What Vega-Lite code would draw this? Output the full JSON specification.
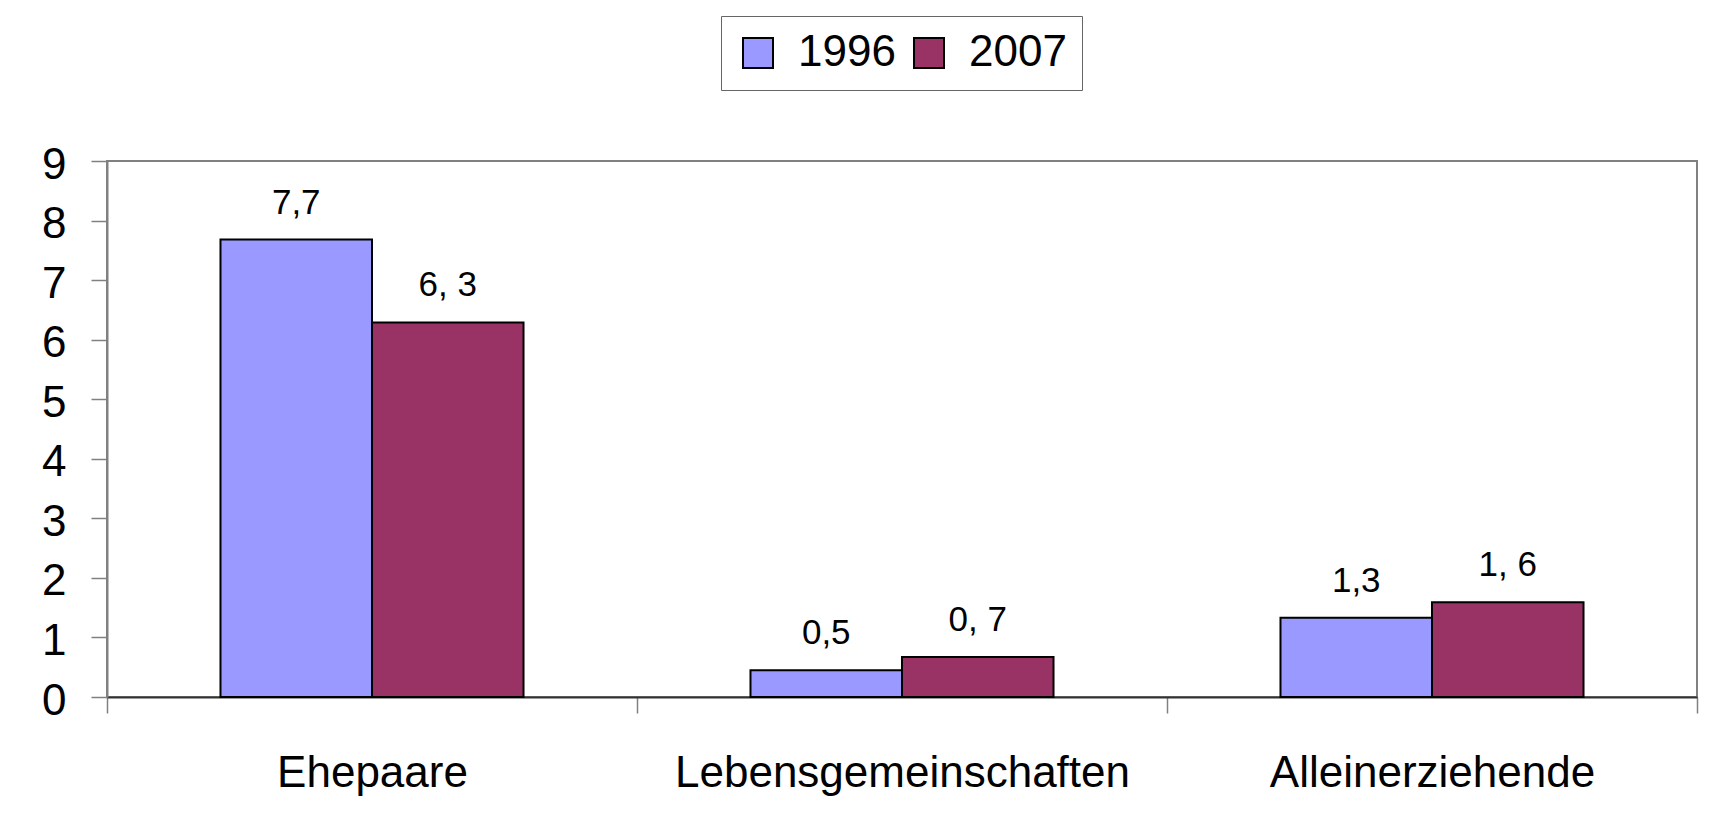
{
  "$schema": "https://vega.github.io/schema/vega-lite/v6.json",
  "autosize": "none",
  "width": 1590,
  "height": 536,
  "padding": {"left": 107, "top": 161, "right": 22, "bottom": 134},
  "background": "white",
  "config": {
    "font": "Liberation Sans",
    "view": {"stroke": "#808080", "strokeWidth": 2},
    "axis": {"grid": false, "labelColor": "black", "labelFont": "Liberation Sans"}
  },
  "data": {
    "values": [
      {"Kategorie": "Ehepaare", "Jahr": "1996", "Wert": 7.68, "Label": "7,7"},
      {"Kategorie": "Ehepaare", "Jahr": "2007", "Wert": 6.29, "Label": "6, 3"},
      {"Kategorie": "Lebensgemeinschaften", "Jahr": "1996", "Wert": 0.45, "Label": "0,5"},
      {"Kategorie": "Lebensgemeinschaften", "Jahr": "2007", "Wert": 0.67, "Label": "0, 7"},
      {"Kategorie": "Alleinerziehende", "Jahr": "1996", "Wert": 1.33, "Label": "1,3"},
      {"Kategorie": "Alleinerziehende", "Jahr": "2007", "Wert": 1.59, "Label": "1, 6"}
    ]
  },
  "encoding": {
    "x": {
      "field": "Kategorie",
      "type": "nominal",
      "sort": null,
      "scale": {"paddingInner": 0, "paddingOuter": 0},
      "axis": {
        "title": null,
        "labelAngle": 0,
        "labelFontSize": 44,
        "labelLimit": 0,
        "labelBaseline": "alphabetic",
        "labelPadding": 73,
        "tickBand": "extent",
        "tickSize": 16,
        "tickColor": "#808080",
        "tickWidth": 1.5,
        "domainColor": "#333333",
        "domainWidth": 2
      }
    },
    "xOffset": {"field": "Jahr", "type": "nominal", "scale": {"paddingInner": 0, "paddingOuter": 0.749}},
    "y": {
      "field": "Wert",
      "type": "quantitative",
      "scale": {"domain": [0, 9], "nice": false},
      "axis": {
        "title": null,
        "values": [0, 1, 2, 3, 4, 5, 6, 7, 8, 9],
        "labelFontSize": 44,
        "labelPadding": 25,
        "labelOffset": 4,
        "tickSize": 16,
        "tickColor": "#808080",
        "tickWidth": 1.5,
        "domainColor": "#808080",
        "domainWidth": 2
      }
    }
  },
  "layer": [
    {
      "mark": {"type": "bar", "stroke": "black", "strokeWidth": 2},
      "encoding": {
        "fill": {
          "field": "Jahr",
          "type": "nominal",
          "scale": {"domain": ["1996", "2007"], "range": ["#9999FF", "#993366"]},
          "legend": {
            "title": null,
            "orient": "none",
            "legendX": 614,
            "legendY": -145,
            "direction": "horizontal",
            "symbolType": "square",
            "symbolSize": 900,
            "symbolStrokeColor": "black",
            "symbolStrokeWidth": 2,
            "symbolOpacity": 1,
            "labelFontSize": 44,
            "labelColor": "black",
            "labelFont": "Liberation Sans",
            "labelOffset": 18,
            "columnPadding": 11,
            "padding": 15,
            "strokeColor": "#666666",
            "fillColor": "white",
            "cornerRadius": 0
          }
        }
      }
    },
    {
      "mark": {"type": "text", "fontSize": 35, "baseline": "alphabetic", "align": "center", "dy": -26, "color": "black"},
      "encoding": {"text": {"field": "Label", "type": "nominal"}}
    }
  ]
}
